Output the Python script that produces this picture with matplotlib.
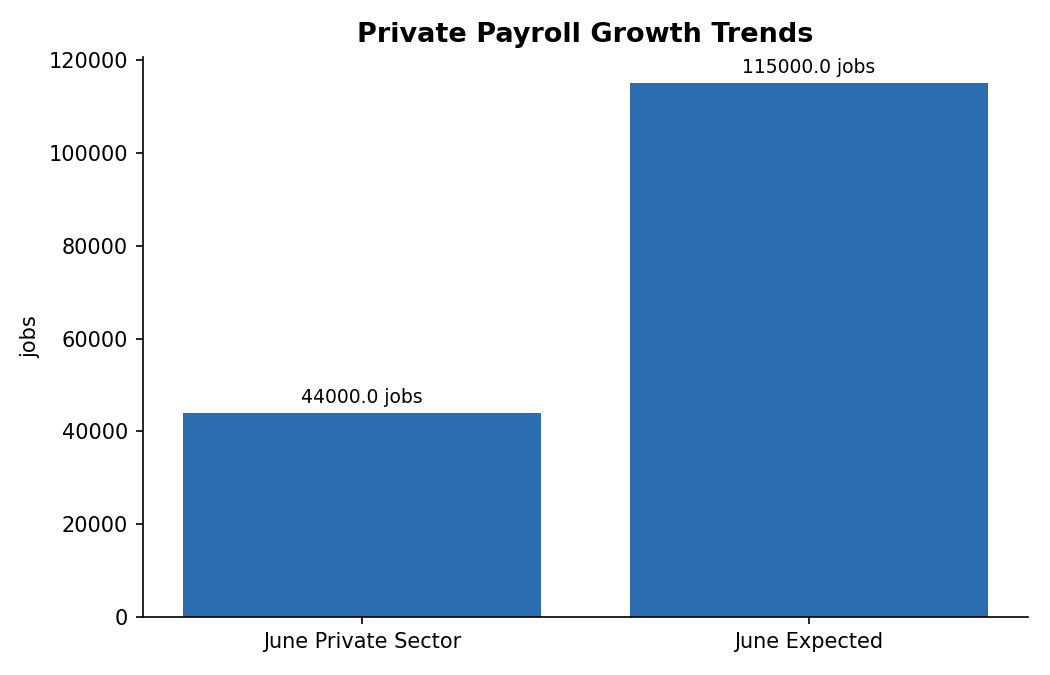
import matplotlib
matplotlib.use("Agg")
import matplotlib.pyplot as plt

plt.rcParams["font.family"] = ["DejaVu Sans"]

categories = ["June Private Sector", "June Expected"]
values = [44000.0, 115000.0]
unit = "jobs"
title = "Private Payroll Growth Trends"

fig = plt.figure(figsize=(7, 4.5), dpi=150)
ax = fig.add_axes([0.136, 0.086, 0.843, 0.83])
bars = ax.bar(categories, values, color="#2c6cb0", width=0.8)
for b, v in zip(bars, values):
    ax.annotate(f"{v} {unit}", (b.get_x() + b.get_width() / 2, v),
                xytext=(0, 3), textcoords="offset points",
                ha="center", va="bottom", fontsize=9)
ax.set_title(title, fontsize=13, fontweight="bold", pad=7)
ax.set_ylabel(unit, fontsize=10)
ax.tick_params(labelsize=10)
ax.spines["top"].set_visible(False)
ax.spines["right"].set_visible(False)
fig.savefig("out.png", dpi=150)
